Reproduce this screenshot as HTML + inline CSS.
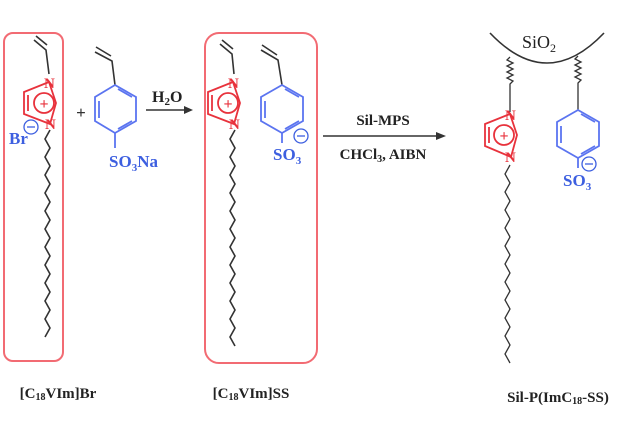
<!DOCTYPE html>
<html><head><style>
body{margin:0;background:#fff;}
svg{display:block;font-family:"Liberation Serif",serif;}
.b{font-weight:bold;}
</style></head><body>
<svg width="630" height="422" viewBox="0 0 630 422" xmlns="http://www.w3.org/2000/svg">
<rect x="4" y="33" width="59" height="328" rx="9" fill="none" stroke="#f26b73" stroke-width="2"/>
<rect x="205" y="33" width="112" height="330" rx="14" fill="none" stroke="#f26b73" stroke-width="2"/>

<!-- Left molecule -->
<g stroke="#333" stroke-width="1.6" fill="none">
<path d="M34,40 L46,50 L49,74"/><path d="M36,36 L47,45"/>
<path d="M50,130 l-5,9 5,9 -5,9 5,9 -5,9 5,9 -5,9 5,9 -5,9 5,9 -5,9 5,9 -5,9 5,9 -5,9 5,9 -5,9 5,9 -5,9 5,9 -5,9 5,9 -5,9"/>
</g>
<g stroke="#e8323c" stroke-width="1.8" fill="none">
<path d="M49,82 L24,92 L24,114 L50,124 L56,103 Z"/><path d="M28,95 L28,111"/>
<circle cx="44" cy="103" r="10"/>
</g>
<text x="44" y="109" font-size="16" fill="#e8323c" text-anchor="middle" class="b">+</text>
<text x="44" y="88" font-size="15" fill="#e8323c" class="b">N</text>
<text x="45" y="129" font-size="15" fill="#e8323c" class="b">N</text>
<text x="9" y="144" font-size="17" fill="#3d5fe0" class="b">Br</text>
<circle cx="31" cy="127" r="7" fill="none" stroke="#3d5fe0" stroke-width="1.3"/><path d="M27,127h8" stroke="#3d5fe0" stroke-width="1.3"/>

<text x="81" y="118" font-size="17" fill="#333" class="b" text-anchor="middle">+</text>

<!-- styrene 1 -->
<g stroke="#333" stroke-width="1.6" fill="none"><path d="M95,52 L112,61 L115,85"/><path d="M96,47 L111,56"/></g>
<g stroke="#5b74f0" stroke-width="1.8" fill="none">
<path d="M115,85 L136,97 L136,121 L115,133 L95,121 L95,97 Z"/><path d="M99,101 L99,118 M118,129 L132,121 M118,89 L132,97"/>
<path d="M115,133 L115,148"/>
</g>
<text x="109" y="167" font-size="17" fill="#3d5fe0" class="b">SO<tspan font-size="11" dy="4">3</tspan><tspan dy="-4">Na</tspan></text>

<path d="M146,110 L186,110" stroke="#333" stroke-width="1.6"/><path d="M193,110 L184,106 L184,114 Z" fill="#333"/>
<text x="152" y="102" font-size="16" fill="#222" class="b">H<tspan font-size="11" dy="3">2</tspan><tspan dy="-3">O</tspan></text>

<!-- middle molecule -->
<g stroke="#333" stroke-width="1.6" fill="none">
<path d="M220,44 L232,54 L234,74"/><path d="M222,40 L233,49"/>
<path d="M235,130 l-5,9 5,9 -5,9 5,9 -5,9 5,9 -5,9 5,9 -5,9 5,9 -5,9 5,9 -5,9 5,9 -5,9 5,9 -5,9 5,9 -5,9 5,9 -5,9 5,9 -5,9 5,9"/>
<path d="M261,50 L278,60 L282,85"/><path d="M262,45 L277,55"/>
</g>
<g stroke="#e8323c" stroke-width="1.8" fill="none">
<path d="M233,82 L208,92 L208,114 L234,124 L240,103 Z"/><path d="M212,95 L212,111"/>
<circle cx="228" cy="103" r="10"/>
</g>
<text x="228" y="109" font-size="16" fill="#e8323c" text-anchor="middle" class="b">+</text>
<text x="228" y="88" font-size="15" fill="#e8323c" class="b">N</text>
<text x="229" y="129" font-size="15" fill="#e8323c" class="b">N</text>
<g stroke="#5b74f0" stroke-width="1.8" fill="none">
<path d="M282,85 L303,97 L303,121 L282,133 L261,121 L261,97 Z"/><path d="M265,101 L265,118 M285,129 L299,121 M285,89 L299,97"/>
<path d="M282,133 L282,143"/>
</g>
<circle cx="301" cy="136" r="7" fill="none" stroke="#3d5fe0" stroke-width="1.3"/><path d="M297,136h8" stroke="#3d5fe0" stroke-width="1.3"/>
<text x="273" y="160" font-size="17" fill="#3d5fe0" class="b">SO<tspan font-size="11" dy="4">3</tspan></text>

<!-- arrow 2 -->
<path d="M323,136 L440,136" stroke="#333" stroke-width="1.6"/><path d="M446,136 L436,132 L436,140 Z" fill="#333"/>
<text x="383" y="125" font-size="15" fill="#222" class="b" text-anchor="middle">Sil-MPS</text>
<text x="383" y="159" font-size="15" fill="#222" class="b" text-anchor="middle">CHCl<tspan font-size="10" dy="3">3</tspan><tspan dy="-3">, AIBN</tspan></text>

<!-- SiO2 -->
<path d="M490,33 Q547,93 604,33" stroke="#333" stroke-width="1.6" fill="none"/>
<text x="522" y="48" font-size="18" fill="#222">SiO<tspan font-size="12" dy="4">2</tspan></text>
<g stroke="#333" stroke-width="1.3" fill="none">
<path d="M510,57 l-3,3 6,3 -6,3 6,3 -6,3 6,3 -6,3 6,3 -3,3 L510,112"/>
<path d="M578,56 l-3,3 6,3 -6,3 6,3 -6,3 6,3 -6,3 6,3 -3,3 L578,110"/>
<path d="M510,165 l-5,9 5,9 -5,9 5,9 -5,9 5,9 -5,9 5,9 -5,9 5,9 -5,9 5,9 -5,9 5,9 -5,9 5,9 -5,9 5,9 -5,9 5,9 -5,9 5,9"/>
</g>
<g stroke="#e8323c" stroke-width="1.8" fill="none">
<path d="M510,114 L485,124 L485,146 L511,157 L517,135 Z"/><path d="M489,127 L489,143"/>
<circle cx="504" cy="135" r="10"/>
</g>
<text x="504" y="141" font-size="16" fill="#e8323c" text-anchor="middle" class="b">+</text>
<text x="505" y="120" font-size="15" fill="#e8323c" class="b">N</text>
<text x="505" y="162" font-size="15" fill="#e8323c" class="b">N</text>
<g stroke="#5b74f0" stroke-width="1.8" fill="none">
<path d="M578,110 L599,122 L599,146 L578,158 L557,146 L557,122 Z"/><path d="M561,126 L561,143 M581,154 L595,146 M581,114 L595,122"/>
<path d="M578,158 L578,168"/>
</g>
<circle cx="589" cy="164" r="7" fill="none" stroke="#3d5fe0" stroke-width="1.3"/><path d="M585,164h8" stroke="#3d5fe0" stroke-width="1.3"/>
<text x="563" y="186" font-size="17" fill="#3d5fe0" class="b">SO<tspan font-size="11" dy="4">3</tspan></text>

<text x="58" y="398" font-size="15" fill="#222" class="b" text-anchor="middle">[C<tspan font-size="10" dy="2">18</tspan><tspan dy="-2">VIm]Br</tspan></text>
<text x="251" y="398" font-size="15" fill="#222" class="b" text-anchor="middle">[C<tspan font-size="10" dy="2">18</tspan><tspan dy="-2">VIm]SS</tspan></text>
<text x="558" y="402" font-size="15" fill="#222" class="b" text-anchor="middle">Sil-P(ImC<tspan font-size="10" dy="2">18</tspan><tspan dy="-2">-SS)</tspan></text>
</svg>
</body></html>
